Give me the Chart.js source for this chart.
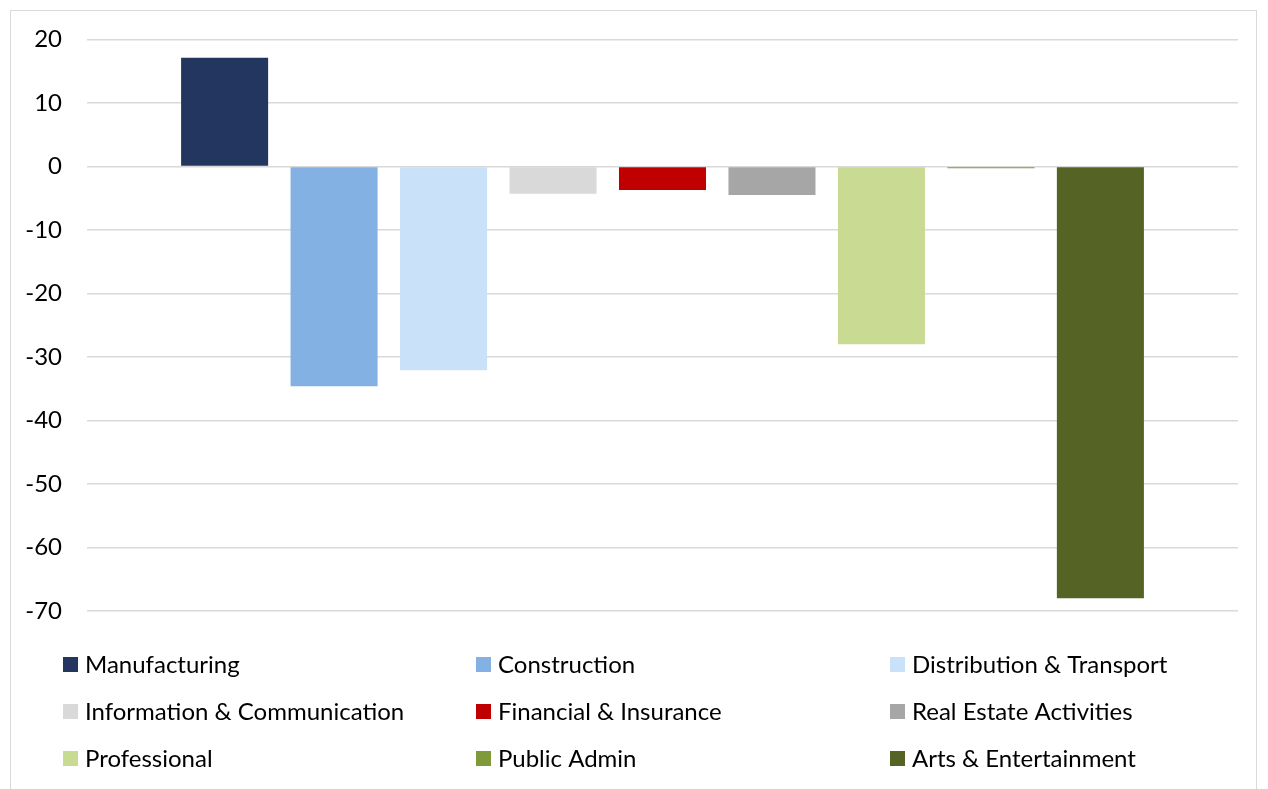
<!DOCTYPE html>
<html>
<head>
<meta charset="utf-8">
<script src="https://cdn.jsdelivr.net/npm/chart.js@4/dist/chart.umd.min.js"></script>
<style>
  html, body { margin: 0; padding: 0; background: #fff; }
  #wrap { position: relative; width: 1268px; height: 789px; overflow: hidden; }
  #frame { position: absolute; left: 10px; top: 10px; width: 1247px; height: 800px; border: 1.5px solid #d9d9d9; box-sizing: border-box; }
  canvas { position: absolute; left: 0; top: 0; }
</style>
</head>
<body>
<div id="wrap">
  <div id="frame"></div>
  <canvas id="grafica" width="1268" height="789"></canvas>
</div>
<script>
// ---------- Dades ----------
const sectors = [
  "Manufacturing", "Construction", "Distribution & Transport",
  "Information & Communication", "Financial & Insurance", "Real Estate Activities",
  "Professional", "Public Admin", "Arts & Entertainment"
];
const values = [17.1, -34.6, -32.1, -4.3, -3.7, -4.5, -28.0, -0.3, -68.0];
const colors = [
  "#22365F", "#83B1E4", "#C9E2FA",
  "#D9D9D9", "#C00000", "#A6A6A6",
  "#C9DA92", "#809A3A", "#556325"
];
const yMin = -70;
const yMax = 20;
const yStep = 10;

const fontFamily = "Lato, 'Open Sans', sans-serif";

// ---------- Llegenda en 3 columnes ----------
const columnLegend = {
  id: 'columnLegend',
  afterDraw(chart) {
    const ctx = chart.ctx;
    const colX = [63, 476, 890];
    const rowY = [664, 711, 758];
    ctx.save();
    ctx.font = "24px " + fontFamily;
    ctx.textBaseline = 'middle';
    chart.data.datasets.forEach((ds, i) => {
      const x = colX[i % 3];
      const y = rowY[Math.floor(i / 3)];
      ctx.fillStyle = ds.backgroundColor;
      ctx.fillRect(x, y - 7, 15, 15);
      ctx.fillStyle = '#000';
      ctx.fillText(ds.label, x + 22, y + 1);
    });
    ctx.restore();
  }
};

document.addEventListener('DOMContentLoaded', () => {
  const ctx = document.getElementById('grafica').getContext('2d');

  new Chart(ctx, {
    type: 'bar',
    data: {
      labels: [''],
      datasets: sectors.map((name, i) => ({
        label: name,
        data: [values[i]],
        backgroundColor: colors[i],
        categoryPercentage: 0.856,
        barPercentage: 0.795
      }))
    },
    options: {
      responsive: false,
      animation: false,
      layout: { padding: { top: 39, right: 30, bottom: 178, left: 0 } },
      scales: {
        x: { display: false },
        y: {
          min: yMin,
          max: yMax,
          afterFit: (scale) => { scale.width = 87; },
          ticks: {
            stepSize: yStep,
            padding: 25,
            color: '#000',
            font: { family: fontFamily, size: 24 }
          },
          grid: { color: '#d9d9d9', lineWidth: 1.5, drawTicks: false },
          border: { display: false }
        }
      },
      plugins: {
        legend: { display: false },
        tooltip: { enabled: false }
      }
    },
    plugins: [columnLegend]
  });
});
</script>
</body>
</html>
